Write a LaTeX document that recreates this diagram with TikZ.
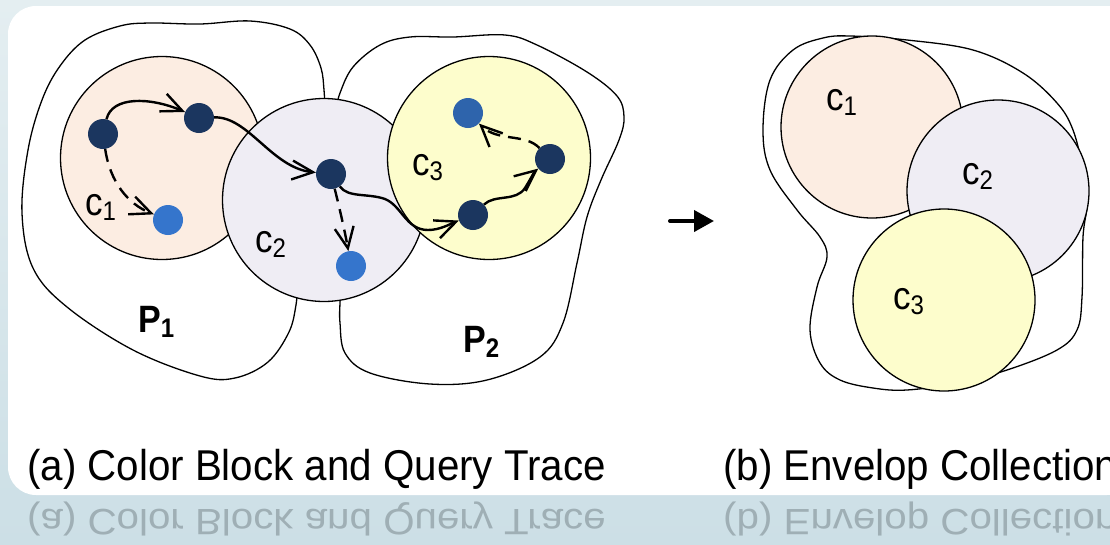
\documentclass[tikz,border=0pt]{standalone}
\usepackage{fontspec}
\setmainfont{Liberation Sans}
\usetikzlibrary{arrows.meta}

\definecolor{bgtop}{HTML}{E4EEF1}
\definecolor{bgbot}{HTML}{CCDFE6}
\definecolor{peach}{HTML}{FCEDE2}
\definecolor{lilac}{HTML}{EFEDF4}
\definecolor{lemon}{HTML}{FDFDCC}
\definecolor{navy}{HTML}{1B365F}
\definecolor{sky}{HTML}{3575CC}
\definecolor{skydeep}{HTML}{2E64AC}
\definecolor{mirror}{HTML}{9FAFB5}

% lowered subscript in the running text font
\newcommand\lowsub[1]{\raisebox{-5pt}{\fontsize{24}{24}\selectfont #1}}
% text set slightly taller than wide
\newcommand\tall[2][1.12]{\scalebox{1}[#1]{#2}}

\begin{document}
\begin{tikzpicture}[x=1pt,y=-1pt,
  outline/.style={draw=black, line width=1.3pt},
  cell/.style={circle, draw=black, line width=1.3pt, inner sep=0pt},
  bigcell/.style={cell, minimum size=203pt},
  smallcell/.style={cell, minimum size=182pt},
  dot/.style={circle, inner sep=0pt, minimum size=30pt},
  visit/.style={dot, fill=navy},
  hit/.style={dot, fill=sky},
  lbl/.style={anchor=base west, inner sep=0pt, font=\fontsize{35}{35}\selectfont},
  plbl/.style={anchor=base west, inner sep=0pt, font=\bfseries\fontsize{34}{34}\selectfont},
  hop/.style={line width=2.4pt, -{Straight Barb[length=21pt,width=19pt]}},
  probe/.style={hop, dash pattern=on 13pt off 8pt},
  caption/.style={anchor=base west, inner sep=0pt, font=\fontsize{40.3}{40}\selectfont},
]
\clip (0,0) rectangle (1110,544);

% backdrop and card
\shade[top color=bgtop, bottom color=bgbot] (0,0) rectangle (1110,544);
\fill[white, rounded corners=28pt] (8,6) rectangle (1135,495);

% mirrored captions under the card
\begin{scope}[shift={(0,509)}]
  \node[caption, text=mirror, yscale=-0.85, transform shape] (ra) at (27,0) {\tall[1.07]{(a) Color Block and Query Trace}};
  \node[caption, text=mirror, yscale=-0.85, transform shape] (rb) at (723,0) {\tall[1.07]{(b) Envelop Collection}};
\end{scope}

% partitions P1 and P2
\draw[outline] plot[smooth, tension=0.6] coordinates {
  (325,110) (324,90) (321,68) (310,45) (290,29) (250,21) (200,24) (150,23)
  (120,26) (85,40) (60,66) (42,100) (28,150) (22,213) (33,268) (67,307)
  (133,350) (200,376) (235,378) (268,362) (289,332) (296,305) (297,290)};
\draw[outline] plot[smooth, tension=0.6] coordinates {
  (336,110) (340,93) (353,67) (380,45) (410,37) (453,37) (505,35) (537,45)
  (587,72) (617,96) (624,117) (619,140) (601,180) (587,217) (577,263)
  (563,323) (540,357) (487,380) (430,384) (370,373) (345,353) (340,323)
  (340,303) (341,290)};

% envelope around the collected cells
\draw[outline] plot[smooth cycle, tension=0.6] coordinates {
  (850,36) (907,40) (973,50) (1023,73) (1057,103) (1073,130) (1083,170)
  (1087,203) (1083,237) (1082,297) (1077,330) (1057,350) (1007,370)
  (957,383) (907,390) (873,388) (840,380) (820,363) (810,330) (817,287)
  (827,257) (820,237) (797,210) (770,170) (763,130) (770,80) (793,50) (823,38)};

% colour blocks, left
\node[bigcell, fill=peach] (A1) at (162,158) {};
\node[bigcell, fill=lilac] (A2) at (324,200) {};
\node[bigcell, fill=lemon] (A3) at (489,158) {};

% colour blocks, right
\node[smallcell, fill=peach] (B1) at (872,127) {};
\node[smallcell, fill=lilac] (B2) at (998,191) {};
\node[smallcell, fill=lemon] (B3) at (944,300) {};

% query trace points
\node[visit] (n1) at (103,134) {};
\node[visit] (n2) at (199,118) {};
\node[visit] (n3) at (331,174) {};
\node[visit] (n4) at (473,215) {};
\node[visit] (n5) at (550,159) {};
\node[hit] (b1) at (168,220) {};
\node[hit] (b2) at (351,266) {};
\node[hit, fill=skydeep] (b3) at (468,113) {};

% trace hops
\draw[hop] (n1) .. controls (112,96) and (150,97) .. (n2);
\draw[hop] (n2) .. controls (248,116) and (272,168) .. (n3);
\draw[hop] (n3) .. controls (348,198) and (368,193) .. (385,199)
  .. controls (402,206) and (406,230) .. (428,230)
  .. controls (440,230) and (450,224) .. (n4);
\draw[hop] (n4) .. controls (495,194) and (516,202) .. (525,188)
  .. controls (530,180) and (534,172) .. (n5);

% probes
\draw[probe] (n1) .. controls (110,182) and (128,204) .. (b1);
\draw[probe] (n3) .. controls (340,210) and (345,232) .. (b2);
\draw[probe] (n5) .. controls (525,133) and (498,142) .. (b3);

% labels
\node[lbl] (t1) at (85,215) {\tall{c\lowsub{1}}};
\node[lbl] (t2) at (255,252) {\tall{c\lowsub{2}}};
\node[lbl] (t3) at (412,175) {\tall{c\lowsub{3}}};
\node[lbl] (u1) at (826,110) {\tall{c\lowsub{1}}};
\node[lbl] (u2) at (962,184) {\tall{c\lowsub{2}}};
\node[lbl] (u3) at (893,309) {\tall{c\lowsub{3}}};
\node[plbl] (p1) at (138,332) {\tall{P\lowsub{\bfseries 1}}};
\node[plbl] (p2) at (463,352) {\tall{P\lowsub{\bfseries 2}}};

% transition arrow
\coordinate (go1) at (670,221);
\coordinate (go2) at (714,221);
\draw[line width=4pt, line cap=round, -{Triangle[length=20pt,width=21pt]}] (go1) -- (go2);

% captions
\node[caption] (capA) at (27,480) {\tall[1.07]{(a) Color Block and Query Trace}};
\node[caption] (capB) at (723,480) {\tall[1.07]{(b) Envelop Collection}};
\end{tikzpicture}
\end{document}
